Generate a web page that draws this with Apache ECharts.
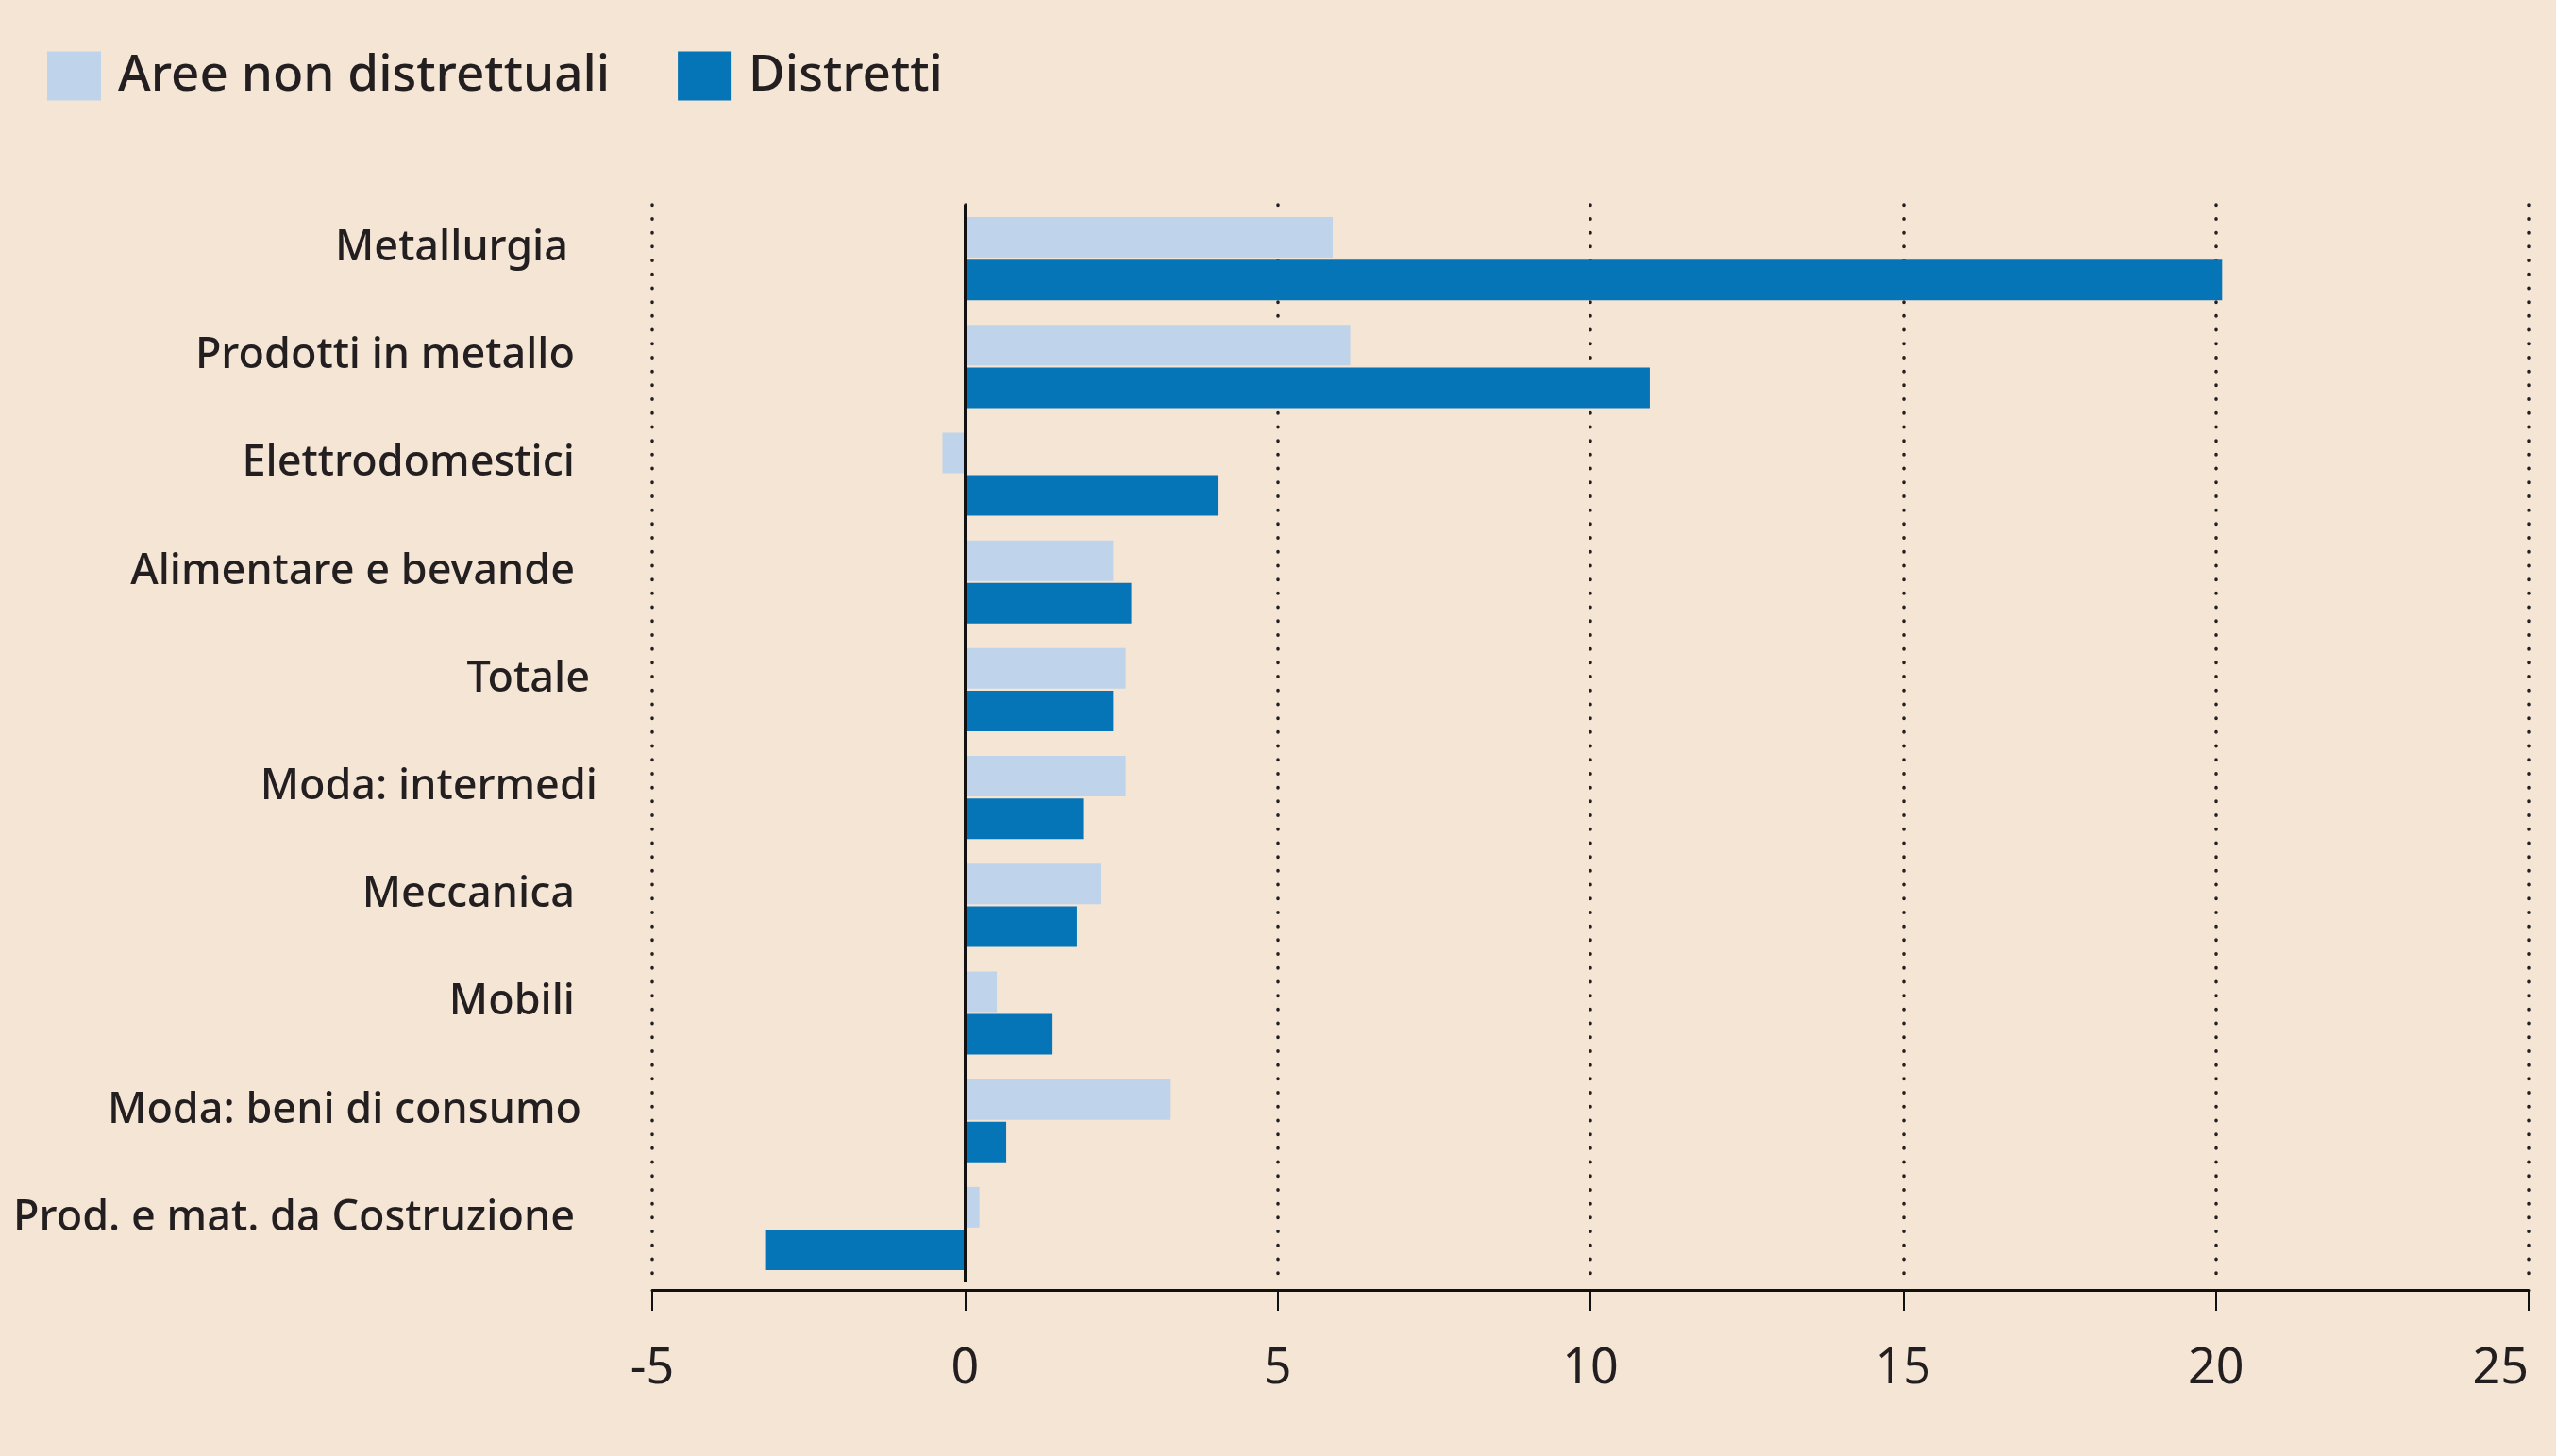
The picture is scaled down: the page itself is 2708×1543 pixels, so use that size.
<!DOCTYPE html>
<html>
<head>
<meta charset="utf-8">
<script src="https://cdn.jsdelivr.net/npm/echarts@6/dist/echarts.min.js"></script>
<style>
  html, body { margin: 0; padding: 0; background: #F4E5D5; }
  #chart { width: 2708px; height: 1543px; }
</style>
</head>
<body>
<div id="chart"></div>
<script>
const categories = [
  "Metallurgia",
  "Prodotti in metallo",
  "Elettrodomestici",
  "Alimentare e bevande",
  "Totale",
  "Moda: intermedi",
  "Meccanica",
  "Mobili",
  "Moda: beni di consumo",
  "Prod. e mat. da Costruzione"
];
const areeNonDistrettuali = [5.88, 6.16, -0.36, 2.37, 2.57, 2.57, 2.18, 0.51, 3.29, 0.23];
const distretti = [20.1, 10.95, 4.04, 2.66, 2.37, 1.89, 1.79, 1.40, 0.66, -3.18];
const xTicks = { min: -5, max: 25, interval: 5 };

const FONT = "Noto Sans";
const TEXT = "#231F20";

// right-edge offsets of the category labels (px towards the left), as in the original layout
const labelRightPad = {
  "Metallurgia": 31, "Totale": 8, "Moda: intermedi": 0, "Moda: beni di consumo": 17
};
const richLabels = {};
for (let i = 0; i <= 40; i++) {
  richLabels['p' + i] = { fontFamily: FONT, fontSize: 45, fontWeight: 500, color: TEXT, padding: [0, i, 22, 0] };
}

const chart = echarts.init(document.getElementById('chart'));
chart.setOption({
  backgroundColor: '#F4E5D5',
  animation: false,
  textStyle: { fontFamily: FONT, color: TEXT },
  legend: {
    left: 45,
    top: 49,
    icon: 'rect',
    itemWidth: 57,
    itemHeight: 52,
    itemGap: 72,
    textStyle: { fontFamily: FONT, fontSize: 53, fontWeight: 500, color: TEXT, padding: [0, 0, 0, 13] },
    data: ['Aree non distrettuali', 'Distretti']
  },
  grid: { left: 691, right: 29, top: 217, bottom: 184, containLabel: false },
  xAxis: {
    type: 'value',
    min: xTicks.min,
    max: xTicks.max,
    interval: xTicks.interval,
    offset: 8,
    axisLine: { show: true, onZero: false, lineStyle: { color: '#111', width: 3 } },
    axisTick: { show: true, length: 22, lineStyle: { color: '#111', width: 2 } },
    axisLabel: { fontFamily: FONT, fontSize: 52, color: TEXT, margin: 58, alignMaxLabel: 'right' },
    splitLine: {
      show: true,
      lineStyle: { color: '#231F20', width: 3.5, type: [0.5, 14.2], cap: 'round' }
    }
  },
  yAxis: {
    type: 'category',
    inverse: true,
    data: categories,
    axisLine: { show: false },
    axisTick: { show: false },
    axisLabel: {
      margin: 58,
      align: 'right',
      formatter: function (v) {
        const pad = (v in labelRightPad) ? labelRightPad[v] : 24;
        return '{p' + pad + '|' + v + '}';
      },
      rich: richLabels
    }
  },
  series: [
    {
      name: 'Aree non distrettuali',
      type: 'bar',
      data: areeNonDistrettuali,
      barWidth: 43,
      barGap: '5%',
      itemStyle: { color: '#BFD3EB' },
      markLine: {
        silent: true,
        symbol: 'none',
        label: { show: false },
        lineStyle: { color: '#111', width: 4, type: 'solid' },
        data: [{ xAxis: 0 }]
      },
      z: 2
    },
    {
      name: 'Distretti',
      type: 'bar',
      data: distretti,
      barWidth: 43,
      barGap: '5%',
      itemStyle: { color: '#0575B7' },
      z: 2
    }
  ]
});
</script>
</body>
</html>
